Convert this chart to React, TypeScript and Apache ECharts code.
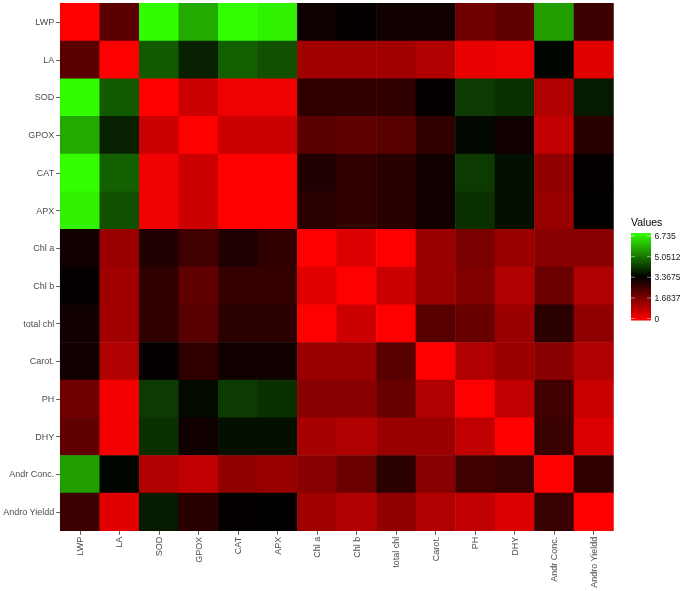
import React, { useEffect, useRef } from "react";
import * as echarts from "echarts";

const variables = ["LWP", "LA", "SOD", "GPOX", "CAT", "APX", "Chl a", "Chl b", "total chl", "Carot.", "PH", "DHY", "Andr Conc.", "Andro Yieldd"];

const rowLWP = [0, 2.18, 6.70, 5.61, 6.735, 6.55, 3.17, 3.30, 3.16, 3.16, 1.89, 2.10, 5.45, 2.58];
const rowLA = [2.18, 0, 4.56, 3.79, 4.63, 4.42, 1.26, 1.26, 1.26, 1.04, 0.30, 0.20, 3.43, 0.41];
const rowSOD = [6.70, 4.56, 0, 0.67, 0.20, 0.20, 2.73, 2.73, 2.73, 3.30, 4.13, 4.00, 1.04, 3.71];
const rowGPOX = [5.61, 3.79, 0.67, 0, 0.67, 0.67, 2.18, 2.10, 2.21, 2.73, 3.47, 3.16, 0.83, 2.84];
const rowCAT = [6.735, 4.63, 0.20, 0.67, 0, 0, 2.95, 2.73, 2.84, 3.16, 4.13, 3.58, 1.47, 3.30];
const rowAPX = [6.55, 4.42, 0.20, 0.67, 0, 0, 2.81, 2.73, 2.84, 3.16, 4.00, 3.58, 1.36, 3.33];
const rowChlA = [3.16, 1.33, 2.95, 2.52, 2.95, 2.73, 0, 0.45, 0, 1.33, 1.76, 1.33, 1.57, 1.57];
const rowChlB = [3.30, 1.26, 2.73, 2.10, 2.67, 2.67, 0.41, 0, 0.67, 1.33, 1.68, 1.04, 1.97, 1.04];
const rowTotalChl = [3.16, 1.26, 2.73, 2.21, 2.81, 2.81, 0, 0.67, 0, 2.21, 1.99, 1.33, 2.81, 1.47];
const rowCarot = [3.16, 1.04, 3.30, 2.73, 3.16, 3.16, 1.33, 1.33, 2.21, 0, 1.04, 1.33, 1.57, 1.04];
const rowPH = [1.89, 0.13, 4.13, 3.50, 4.13, 4.00, 1.57, 1.57, 1.99, 1.04, 0, 0.83, 2.52, 0.73];
const rowDHY = [2.10, 0.13, 4.00, 3.16, 3.58, 3.58, 1.15, 1.04, 1.33, 1.33, 0.83, 0, 2.63, 0.45];
const rowAndrConc = [5.45, 3.43, 1.04, 0.83, 1.47, 1.36, 1.57, 1.97, 2.81, 1.57, 2.52, 2.63, 0, 2.73];
const rowAndroYield = [2.58, 0.41, 3.71, 2.84, 3.30, 3.33, 1.26, 1.04, 1.47, 1.04, 0.83, 0.45, 2.63, 0];

const matrix = [rowLWP, rowLA, rowSOD, rowGPOX, rowCAT, rowAPX, rowChlA, rowChlB, rowTotalChl, rowCarot, rowPH, rowDHY, rowAndrConc, rowAndroYield];

const legendTicks = [6.735, 5.0512, 3.3675, 1.6837, 0];
const legendTickLabels = ["6.735", "5.0512", "3.3675", "1.6837", "0"];
const valueMin = 0;
const valueMax = 6.735;

const FONT = "'Liberation Sans', Arial, Helvetica, sans-serif";

export default function App() {
  const ref = useRef<HTMLDivElement>(null);
  useEffect(() => {
    if (!ref.current) return;
    const chart = echarts.init(ref.current, null, { renderer: "svg" });
    const data: number[][] = [];
    matrix.forEach((row, yi) => row.forEach((v, xi) => data.push([xi, yi, v])));

    const barX = 631, barW = 20, barTop = 233, barBottom = 320.5;
    const tickTop = 236, tickBottom = 318.5;
    const tickY = (v: number) => tickBottom - ((v - valueMin) / (valueMax - valueMin)) * (tickBottom - tickTop);

    const graphics: any[] = [
      { type: "text", x: barX, y: 227, style: { text: "Values", font: `10.5px ${FONT}`, fill: "#000", verticalAlign: "bottom" } },
      {
        type: "rect",
        shape: { x: barX, y: barTop, width: barW, height: barBottom - barTop },
        style: {
          fill: new echarts.graphic.LinearGradient(0, 0, 0, 1, [
            { offset: 0, color: "#33FF00" },
            { offset: 0.5, color: "#000000" },
            { offset: 1, color: "#FF0000" },
          ]),
        },
      },
    ];
    legendTicks.forEach((v, i) => {
      const y = tickY(v);
      graphics.push({ type: "line", shape: { x1: barX, y1: y, x2: barX + 4, y2: y }, style: { stroke: "#fff", lineWidth: 0.6, opacity: 0.8 } });
      graphics.push({ type: "line", shape: { x1: barX + barW - 4, y1: y, x2: barX + barW, y2: y }, style: { stroke: "#fff", lineWidth: 0.6, opacity: 0.8 } });
      graphics.push({ type: "text", x: barX + barW + 3.5, y, style: { text: legendTickLabels[i], font: `8.5px ${FONT}`, fill: "#222", verticalAlign: "middle", align: "left" } });
    });

    chart.setOption({
      animation: false,
      grid: { left: 59.5, top: 3.3, right: 71.5, bottom: 57 },
      xAxis: {
        type: "category",
        data: variables,
        position: "bottom",
        axisLine: { show: false },
        axisTick: { show: true, alignWithLabel: true, length: 4, lineStyle: { color: "#333", width: 0.8 } },
        axisLabel: { rotate: 90, fontSize: 9, color: "#4D4D4D", margin: 6, fontFamily: FONT, interval: 0 },
        splitLine: { show: false },
      },
      yAxis: {
        type: "category",
        data: variables,
        inverse: true,
        axisLine: { show: false },
        axisTick: { show: true, alignWithLabel: true, length: 4, lineStyle: { color: "#333", width: 0.8 } },
        axisLabel: { fontSize: 9, color: "#4D4D4D", margin: 6, fontFamily: FONT, interval: 0 },
        splitLine: { show: false },
      },
      visualMap: {
        show: false,
        type: "continuous",
        min: valueMin,
        max: valueMax,
        dimension: 2,
        inRange: { color: ["#FF0000", "#000000", "#33FF00"] },
      },
      graphic: graphics,
      series: [
        {
          type: "heatmap",
          data,
          itemStyle: { borderWidth: 0 },
          emphasis: { disabled: true },
        },
      ],
    });
    return () => chart.dispose();
  }, []);
  return <div ref={ref} style={{ position: "fixed", left: 0, top: 0, width: 685, height: 591 }} />;
}
